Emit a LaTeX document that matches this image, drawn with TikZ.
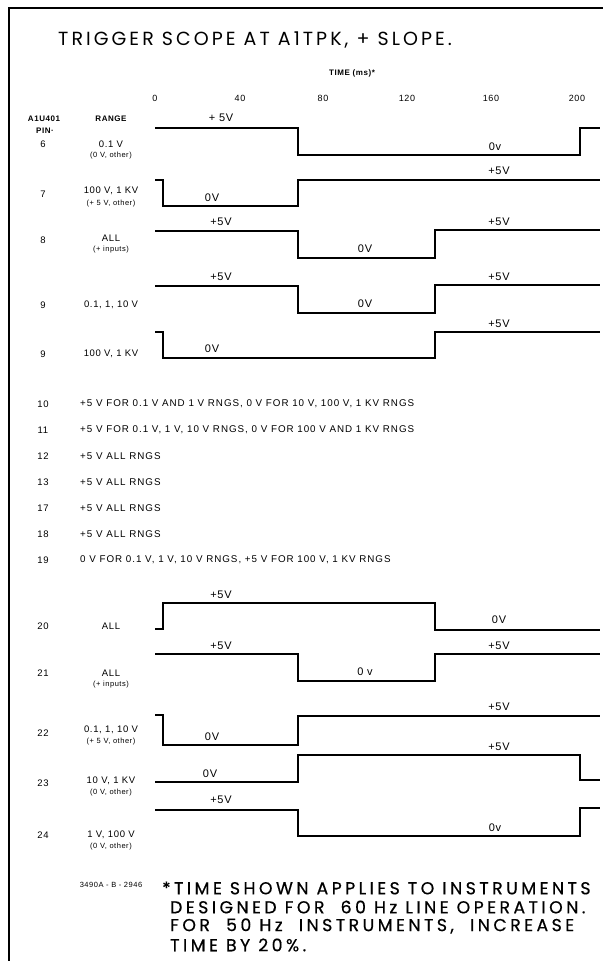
\documentclass[tikz,border=0pt]{standalone}
\usepackage{fontspec}
\setmainfont{Liberation Sans}
\newfontfamily\titlefont[LetterSpace=16]{Poppins}
\newfontfamily\notefont[LetterSpace=20, FakeBold=0.5]{Poppins}
\newfontfamily\lblfont[LetterSpace=7]{Liberation Sans}
\newfontfamily\rowfont[LetterSpace=10]{Liberation Sans}
\usetikzlibrary{positioning}
% time positions of the edges (0, start step, ~67 ms, ~133 ms, ~200 ms, end)
\newcommand{\tOn}{155}
\newcommand{\tEdge}{163}
\newcommand{\tMid}{298}
\newcommand{\tLate}{435}
\newcommand{\tWrap}{580}
\newcommand{\tEnd}{600}
\tikzset{
  wave/.style={line width=1.4pt, line join=miter},
  frameline/.style={line width=1.2pt},
  pinlbl/.style={font=\lblfont\fontsize{9.5}{10}\selectfont, inner sep=0pt},
  rnglbl/.style={font=\lblfont\fontsize{9.5}{10}\selectfont, inner sep=0pt},
  sublbl/.style={font=\lblfont\fontsize{7.5}{8}\selectfont, inner sep=0pt},
  headlbl/.style={font=\lblfont\fontsize{8}{9}\selectfont\bfseries, inner sep=0pt},
  levlbl/.style={font=\lblfont\fontsize{11}{12}\selectfont, inner sep=0pt},
  ticklbl/.style={font=\lblfont\fontsize{9}{10}\selectfont, inner sep=0pt},
  rowtext/.style={font=\rowfont\fontsize{9.8}{10}\selectfont, inner sep=0pt, anchor=west},
  notelbl/.style={font=\notefont\fontsize{17.3}{18}\selectfont, inner sep=0pt, anchor=west}
}
\begin{document}
\begin{tikzpicture}[x=1pt, y=-1pt]
    \useasboundingbox[fill=white] (0,0) rectangle (603,961);
    % frame
    \draw[frameline] (9,961) -- (9,8) -- (603,8);

    % heading and time axis
    \node[font=\titlefont\fontsize{19}{20}\selectfont, inner sep=0pt, anchor=west] (title) at (58,40) {TRIGGER SCOPE AT A1TPK, + SLOPE.};
    \node[headlbl] (timeaxis) at (352,73) {TIME (ms)*};
    \node[ticklbl] (t0) at (155,98) {0};
    \node[ticklbl] (t40) at (240,98) {40};
    \node[ticklbl] (t80) at (323,98) {80};
    \node[ticklbl] (t120) at (407,98) {120};
    \node[ticklbl] (t160) at (491,98) {160};
    \node[ticklbl] (t200) at (577,98) {200};
    \node[headlbl] (pinhead) at (44,119) {A1U401};
    \node[headlbl] (pinhead2) at (45,131) {PIN·};
    \node[headlbl] (rnghead) at (111,119) {RANGE};

    % pin 6
    \node[pinlbl] (p6) at (43,144) {6};
    \node[rnglbl] (r6) at (111,144) {0.1 V};
    \node[sublbl] (s6) at (111,156) {(0 V, other)};
    \draw[wave] (\tOn,128) -- (\tMid,128) -- (\tMid,155) -- (\tWrap,155) -- (\tWrap,128) -- (\tEnd,128);
    \node[levlbl] (h6) at (221,118) {+ 5V};
    \node[levlbl] (l6) at (495,147) {0v};

    % pin 7
    \node[pinlbl] (p7) at (43,194) {7};
    \node[rnglbl] (r7) at (111,191) {100 V, 1 KV};
    \node[sublbl] (s7) at (111,204) {(+ 5 V, other)};
    \draw[wave] (\tOn,180) -- (\tEdge,180) -- (\tEdge,206) -- (\tMid,206) -- (\tMid,180) -- (\tEnd,180);
    \node[levlbl] (l7) at (212,198) {0V};
    \node[levlbl] (h7) at (499,171) {+5V};

    % pin 8
    \node[pinlbl] (p8) at (43,240) {8};
    \node[rnglbl] (r8) at (111,238) {ALL};
    \node[sublbl] (s8) at (111,250) {(+ inputs)};
    \draw[wave] (\tOn,231) -- (\tMid,231) -- (\tMid,258) -- (\tLate,258) -- (\tLate,230) -- (\tEnd,230);
    \node[levlbl] (h8a) at (221,222) {+5V};
    \node[levlbl] (l8) at (365,249) {0V};
    \node[levlbl] (h8b) at (499,222) {+5V};

    % pin 9, low ranges
    \node[pinlbl] (p9a) at (43,305) {9};
    \node[rnglbl] (r9a) at (111,305) {0.1, 1, 10 V};
    \draw[wave] (\tOn,286) -- (\tMid,286) -- (\tMid,313) -- (\tLate,313) -- (\tLate,285) -- (\tEnd,285);
    \node[levlbl] (h9a) at (221,277) {+5V};
    \node[levlbl] (l9a) at (365,304) {0V};
    \node[levlbl] (h9b) at (499,277) {+5V};

    % pin 9, high ranges
    \node[pinlbl] (p9b) at (43,354) {9};
    \node[rnglbl] (r9b) at (111,354) {100 V, 1 KV};
    \draw[wave] (\tOn,332) -- (\tEdge,332) -- (\tEdge,358) -- (\tLate,358) -- (\tLate,332) -- (\tEnd,332);
    \node[levlbl] (l9b) at (212,349) {0V};
    \node[levlbl] (h9c) at (499,324) {+5V};

    % static pins
    \node[pinlbl] (p10) at (43,404) {10};
    \node[rowtext] (x10) at (80,404) {+5 V FOR 0.1 V AND 1 V RNGS, 0 V FOR 10 V, 100 V, 1 KV RNGS};
    \node[pinlbl] (p11) at (43,430) {11};
    \node[rowtext] (x11) at (80,430) {+5 V FOR 0.1 V, 1 V, 10 V RNGS, 0 V FOR 100 V AND 1 KV RNGS};
    \node[pinlbl] (p12) at (43,456) {12};
    \node[rowtext] (x12) at (80,456) {+5 V ALL RNGS};
    \node[pinlbl] (p13) at (43,482) {13};
    \node[rowtext] (x13) at (80,482) {+5 V ALL RNGS};
    \node[pinlbl] (p17) at (43,508) {17};
    \node[rowtext] (x17) at (80,508) {+5 V ALL RNGS};
    \node[pinlbl] (p18) at (43,534) {18};
    \node[rowtext] (x18) at (80,534) {+5 V ALL RNGS};
    \node[pinlbl] (p19) at (43,560) {19};
    \node[rowtext] (x19) at (80,560) {0 V FOR 0.1 V, 1 V, 10 V RNGS, +5 V FOR 100 V, 1 KV RNGS};

    % pin 20
    \node[pinlbl] (p20) at (43,626) {20};
    \node[rnglbl] (r20) at (111,626) {ALL};
    \draw[wave] (\tOn,629) -- (\tEdge,629) -- (\tEdge,603) -- (\tLate,603) -- (\tLate,630) -- (\tEnd,630);
    \node[levlbl] (h20) at (221,595) {+5V};
    \node[levlbl] (l20) at (499,620) {0V};

    % pin 21
    \node[pinlbl] (p21) at (43,673) {21};
    \node[rnglbl] (r21) at (111,673) {ALL};
    \node[sublbl] (s21) at (111,685) {(+ inputs)};
    \draw[wave] (\tOn,654) -- (\tMid,654) -- (\tMid,681) -- (\tLate,681) -- (\tLate,654) -- (\tEnd,654);
    \node[levlbl] (h21a) at (221,646) {+5V};
    \node[levlbl] (l21) at (365,672) {0 v};
    \node[levlbl] (h21b) at (499,646) {+5V};

    % pin 22
    \node[pinlbl] (p22) at (43,733) {22};
    \node[rnglbl] (r22) at (111,730) {0.1, 1, 10 V};
    \node[sublbl] (s22) at (111,742) {(+ 5 V, other)};
    \draw[wave] (\tOn,715) -- (\tEdge,715) -- (\tEdge,745) -- (\tMid,745) -- (\tMid,716) -- (\tEnd,716);
    \node[levlbl] (l22) at (212,737) {0V};
    \node[levlbl] (h22) at (499,707) {+5V};

    % pin 23
    \node[pinlbl] (p23) at (43,783) {23};
    \node[rnglbl] (r23) at (111,781) {10 V, 1 KV};
    \node[sublbl] (s23) at (111,793) {(0 V, other)};
    \draw[wave] (\tOn,782) -- (\tMid,782) -- (\tMid,755) -- (\tWrap,755) -- (\tWrap,780) -- (\tEnd,780);
    \node[levlbl] (l23) at (210,774) {0V};
    \node[levlbl] (h23) at (499,747) {+5V};

    % pin 24
    \node[pinlbl] (p24) at (43,835) {24};
    \node[rnglbl] (r24) at (111,835) {1 V, 100 V};
    \node[sublbl] (s24) at (111,847) {(0 V, other)};
    \draw[wave] (\tOn,810) -- (\tMid,810) -- (\tMid,836) -- (\tWrap,836) -- (\tWrap,808) -- (\tEnd,808);
    \node[levlbl] (h24) at (221,800) {+5V};
    \node[levlbl] (l24) at (495,828) {0v};

    % drawing number and footnote
    \node[sublbl] (dwgno) at (111,885) {3490A - B - 2946};
    \node[notelbl] (note1) at (162,888) {*TIME SHOWN APPLIES TO INSTRUMENTS};
    \node[notelbl] (note2) at (170,907) {DESIGNED FOR\ \ 60 Hz LINE OPERATION.};
    \node[notelbl] (note3) at (170,926) {FOR\ \ 50 Hz\ \ INSTRUMENTS,\ \ INCREASE};
    \node[notelbl] (note4) at (170,945) {TIME BY 20\%.};
\end{tikzpicture}
\end{document}
